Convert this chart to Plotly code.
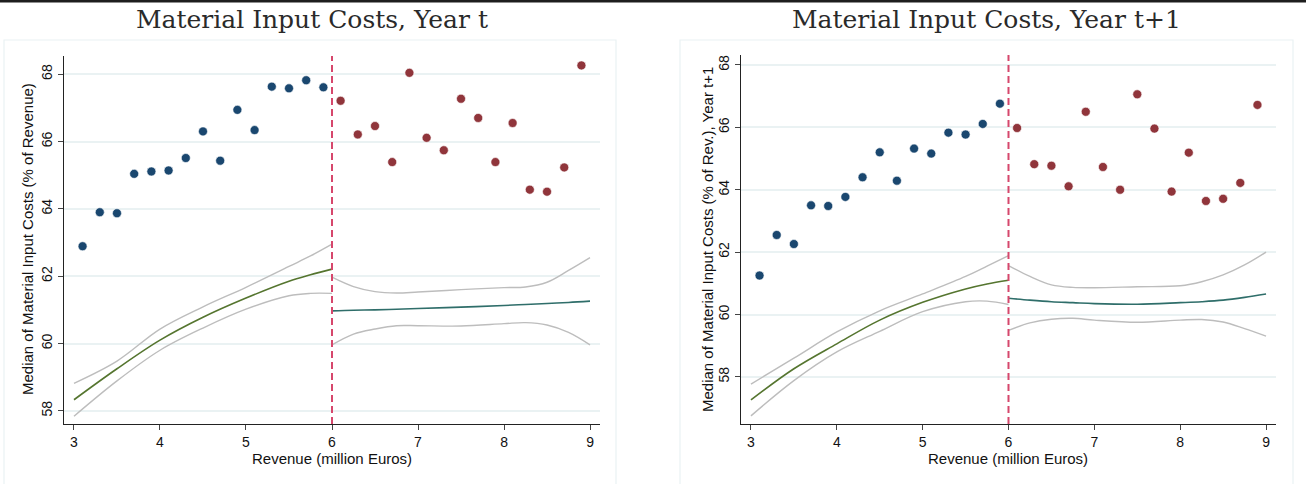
import plotly.graph_objects as go

W, H = 1306, 484

# Revenue bins (million Euros), below and above the 6m threshold
bins_below = [3.1, 3.3, 3.5, 3.7, 3.9, 4.1, 4.3, 4.5, 4.7, 4.9, 5.1, 5.3, 5.5, 5.7, 5.9]
bins_above = [6.1, 6.3, 6.5, 6.7, 6.9, 7.1, 7.3, 7.5, 7.7, 7.9, 8.1, 8.3, 8.5, 8.7, 8.9]

# Median material input costs, year t (% of revenue)
cost_t_below = [62.89, 63.90, 63.87, 65.04, 65.11, 65.14, 65.51, 66.30, 65.43, 66.94,
                66.34, 67.63, 67.58, 67.82, 67.61]
cost_t_above = [67.21, 66.21, 66.46, 65.39, 68.04, 66.11, 65.74, 67.27, 66.70, 65.39,
                66.55, 64.57, 64.51, 65.23, 68.26]

# Median material input costs, year t+1 (% of revenue)
cost_t1_below = [61.25, 62.55, 62.26, 63.50, 63.48, 63.77, 64.40, 65.20, 64.29, 65.32,
                 65.16, 65.83, 65.77, 66.11, 66.76]
cost_t1_above = [65.98, 64.82, 64.77, 64.11, 66.50, 64.73, 64.00, 67.06, 65.96, 63.94,
                 65.19, 63.64, 63.71, 64.22, 66.72]

# Local fits with confidence bands on either side of the threshold
fit_x_below = [3.0, 3.5, 4.0, 4.5, 5.0, 5.5, 5.75, 6.0]
fit_x_above = [6.0, 6.25, 6.5, 6.75, 7.0, 7.5, 8.0, 8.25, 8.5, 8.75, 9.0]

fit_t_below = [58.33, 59.25, 60.10, 60.78, 61.35, 61.85, 62.04, 62.21]
hi_t_below = [58.82, 59.48, 60.43, 61.09, 61.67, 62.29, 62.60, 62.95]
lo_t_below = [57.84, 58.89, 59.80, 60.46, 61.02, 61.42, 61.49, 61.49]
fit_t_above = [60.97, 60.99, 61.00, 61.02, 61.04, 61.08, 61.13, 61.16, 61.19, 61.22, 61.26]
hi_t_above = [61.97, 61.69, 61.54, 61.50, 61.53, 61.60, 61.66, 61.68, 61.82, 62.17, 62.55]
lo_t_above = [59.96, 60.28, 60.43, 60.53, 60.53, 60.52, 60.59, 60.62, 60.55, 60.33, 59.96]

fit_t1_below = [57.26, 58.26, 59.06, 59.82, 60.39, 60.82, 60.98, 61.10]
hi_t1_below = [57.77, 58.60, 59.44, 60.12, 60.66, 61.22, 61.55, 61.89]
lo_t1_below = [56.75, 57.88, 58.80, 59.46, 60.09, 60.41, 60.43, 60.32]
fit_t1_above = [60.52, 60.46, 60.41, 60.38, 60.35, 60.33, 60.38, 60.41, 60.46, 60.55, 60.66]
hi_t1_above = [61.57, 61.22, 60.95, 60.87, 60.86, 60.89, 60.92, 61.05, 61.27, 61.59, 62.00]
lo_t1_above = [59.49, 59.73, 59.85, 59.88, 59.82, 59.75, 59.82, 59.84, 59.76, 59.55, 59.31]

y_ticks = [58, 60, 62, 64, 66, 68]
x_ticks = [3, 4, 5, 6, 7, 8, 9]
threshold = 6

titles = ["Material Input Costs, Year t", "Material Input Costs, Year t+1"]
y_titles = ["Median of Material Input Costs (% of Revenue)",
            "Median of Material Input Costs (% of Rev.), Year t+1"]

BLUE = "#1a476f"
RED = "#90353b"
GREEN = "#55752f"
TEAL = "#2f6e6a"
GRAY = "#bdbdbd"
DASH = "#d6476c"
GRID = "#eaf2f3"
SANS = "Liberation Sans, Arial, sans-serif"
SERIF = "DejaVu Serif, Liberation Serif, serif"

fig = go.Figure()

panels = [
    dict(xa="x", ya="y", below=cost_t_below, above=cost_t_above,
         fb=(fit_t_below, hi_t_below, lo_t_below), fa=(fit_t_above, hi_t_above, lo_t_above)),
    dict(xa="x2", ya="y2", below=cost_t1_below, above=cost_t1_above,
         fb=(fit_t1_below, hi_t1_below, lo_t1_below), fa=(fit_t1_above, hi_t1_above, lo_t1_above)),
]

for p in panels:
    line_kw = dict(xaxis=p["xa"], yaxis=p["ya"], mode="lines", showlegend=False, hoverinfo="skip")
    fit, hi, lo = p["fb"]
    fig.add_trace(go.Scatter(x=fit_x_below, y=hi, line=dict(color=GRAY, width=1.4, shape="spline"), **line_kw))
    fig.add_trace(go.Scatter(x=fit_x_below, y=lo, line=dict(color=GRAY, width=1.4, shape="spline"), **line_kw))
    fig.add_trace(go.Scatter(x=fit_x_below, y=fit, line=dict(color=GREEN, width=1.6, shape="spline"), **line_kw))
    fit, hi, lo = p["fa"]
    fig.add_trace(go.Scatter(x=fit_x_above, y=hi, line=dict(color=GRAY, width=1.4, shape="spline"), **line_kw))
    fig.add_trace(go.Scatter(x=fit_x_above, y=lo, line=dict(color=GRAY, width=1.4, shape="spline"), **line_kw))
    fig.add_trace(go.Scatter(x=fit_x_above, y=fit, line=dict(color=TEAL, width=1.6, shape="spline"), **line_kw))
    fig.add_trace(go.Scatter(x=bins_below, y=p["below"], mode="markers", xaxis=p["xa"], yaxis=p["ya"],
                             marker=dict(color=BLUE, size=9, line=dict(color="white", width=0.6)),
                             showlegend=False))
    fig.add_trace(go.Scatter(x=bins_above, y=p["above"], mode="markers", xaxis=p["xa"], yaxis=p["ya"],
                             marker=dict(color=RED, size=9, line=dict(color="white", width=0.6)),
                             showlegend=False))

axis_common = dict(showline=True, linecolor="#222", linewidth=1.2, ticks="outside", ticklen=5,
                   tickwidth=1, tickcolor="#444", tickfont=dict(family=SANS, size=14, color="#111"),
                   zeroline=False, mirror=False)

ybot = 1 - 424 / H
fig.update_layout(
    width=W, height=H,
    margin=dict(l=0, r=0, t=0, b=0),
    paper_bgcolor="white", plot_bgcolor="white",
    xaxis=dict(domain=[64 / W, 600 / W], range=[2.884, 9.116], tickvals=x_ticks,
               showgrid=False, anchor="y", **axis_common),
    yaxis=dict(domain=[ybot, 1 - 56 / H], range=[57.61, 68.54], tickvals=y_ticks, tickangle=-90,
               showgrid=True, gridcolor=GRID, gridwidth=1.5, anchor="x", **axis_common),
    xaxis2=dict(domain=[741 / W, 1276 / W], range=[2.884, 9.116], tickvals=x_ticks,
                showgrid=False, anchor="y2", **axis_common),
    yaxis2=dict(domain=[ybot, 1 - 55 / H], range=[56.49, 68.32], tickvals=y_ticks, tickangle=-90,
                showgrid=True, gridcolor=GRID, gridwidth=1.5, anchor="x2", **axis_common),
)

shapes = [
    # thin dark band along the top edge
    dict(type="rect", xref="paper", yref="paper", x0=0, x1=1, y0=1 - 2.5 / H, y1=1,
         fillcolor="#1e1e1e", line=dict(width=0), layer="above"),
    # panel frames
    dict(type="rect", xref="paper", yref="paper", x0=4 / W, x1=616 / W, y0=-0.05, y1=1 - 40 / H,
         line=dict(color=GRID, width=1.2), layer="below"),
    dict(type="rect", xref="paper", yref="paper", x0=680 / W, x1=1293 / W, y0=-0.05, y1=1 - 40 / H,
         line=dict(color=GRID, width=1.2), layer="below"),
]
for xa, ya in [("x", "y"), ("x2", "y2")]:
    shapes.append(dict(type="line", xref=xa, yref=f"{ya} domain", x0=threshold, x1=threshold, y0=0, y1=1,
                       line=dict(color=DASH, width=2, dash="7px,4px"), layer="above"))
fig.update_layout(shapes=shapes)

annotations = []
for cx, t in zip([312, 986], titles):
    annotations.append(dict(text=t, x=cx / W, y=1 - 19 / H, xref="paper", yref="paper",
                            showarrow=False, xanchor="center", yanchor="middle",
                            font=dict(family=SERIF, size=25, color="#2a2a2a")))
for cx, t in zip([332, 1008], ["Revenue (million Euros)"] * 2):
    annotations.append(dict(text=t, x=cx / W, y=1 - 458 / H, xref="paper", yref="paper",
                            showarrow=False, xanchor="center", yanchor="middle",
                            font=dict(family=SANS, size=15, color="#111")))
for cx, cy, t in zip([28, 707], [239, 240], y_titles):
    annotations.append(dict(text=t, x=cx / W, y=1 - cy / H, xref="paper", yref="paper",
                            showarrow=False, xanchor="center", yanchor="middle", textangle=-90,
                            font=dict(family=SANS, size=15, color="#111")))
fig.update_layout(annotations=annotations)

fig.write_html("out.html")
